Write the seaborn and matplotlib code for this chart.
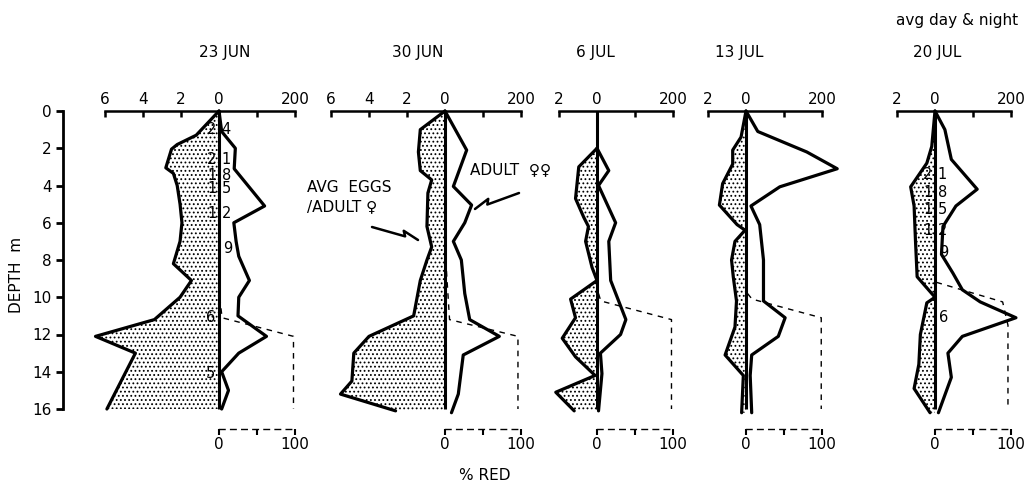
import matplotlib
matplotlib.use("Agg")
import numpy as np
import pandas as pd
import matplotlib.pyplot as plt
from matplotlib.lines import Line2D
import seaborn as sns

# ------------------------------------------------------------------ data
dates = ["23 JUN", "30 JUN", "6 JUL", "13 JUL", "20 JUL"]
egg_axis_max = [6, 6, 2, 2, 2]
depth_ticks = [0, 2, 4, 6, 8, 10, 12, 14, 16]
egg_tick_labels = ["6", "4", "2", "0"]
adult_tick_labels = ["", "200"]
red_ticks = [0, 50, 100]
red_tick_labels = ["0", "", "100"]

# 23 JUN
jun23_egg_depth = [0, 1.3, 1.8, 2.05, 3.05, 3.35, 4.0, 5.0, 6.0, 7.0, 8.2, 9.1, 10.0, 11.2, 12.1, 13.0, 16.0]
jun23_eggs = [0, 1.2, 2.2, 2.5, 2.8, 2.4, 2.2, 2.05, 1.95, 2.05, 2.4, 1.45, 2.05, 3.4, 6.5, 4.4, 5.9]
jun23_adult_depth = [0, 1.1, 2.0, 3.1, 5.1, 6.0, 7.0, 7.8, 9.1, 10.0, 11.0, 12.1, 13.0, 14.0, 15.0, 16.0]
jun23_adults = [0, 7, 43, 40, 120, 39, 45, 52, 80, 52, 50, 125, 52, 7, 25, 7]
jun23_red_depth = [10.0, 11.1, 12.1, 16.0]
jun23_red = [1, 4, 98, 98]
jun23_n_depth = [1.0, 2.6, 3.45, 4.15, 5.5, 7.4, 11.1, 14.1]
jun23_n = ["24", "21", "18", "15", "12", "9", "6", "5"]
jun23_n_side = ["c", "c", "c", "c", "c", "r", "l", "l"]

# 30 JUN
jun30_egg_depth = [0, 1.0, 2.2, 3.2, 3.7, 4.4, 6.2, 7.3, 8.0, 9.1, 11.0, 12.1, 13.0, 14.5, 15.2, 16.1]
jun30_eggs = [0, 1.3, 1.4, 1.3, 0.7, 0.9, 0.95, 0.7, 0.95, 1.3, 1.65, 4.0, 4.8, 4.9, 5.5, 2.6]
jun30_adult_depth = [0, 2.1, 4.05, 5.05, 6.0, 7.0, 8.0, 9.8, 11.2, 12.1, 13.1, 15.2, 16.2]
jun30_adults = [0, 57, 22, 70, 52, 22, 43, 52, 65, 143, 48, 35, 17]
jun30_red_depth = [8.0, 11.2, 12.1, 16.0]
jun30_red = [1, 6, 96, 96]

# 6 JUL
jul06_egg_depth = [2.0, 3.0, 4.7, 5.7, 6.2, 7.0, 8.4, 9.1, 10.1, 11.1, 12.2, 13.2, 14.2, 15.1, 16.1]
jul06_eggs = [0, 0.96, 1.13, 0.7, 0.45, 0.6, 0.26, 0, 1.39, 1.13, 1.83, 1.13, 0.1, 2.17, 1.2]
jul06_adult_depth = [2.0, 3.2, 4.0, 6.0, 7.0, 9.1, 11.2, 12.0, 13.0, 14.1, 16.1]
jul06_adults = [0, 31, 4, 49, 31, 36, 76, 62, 9, 13, 4]
jul06_red_depth = [9.8, 10.2, 11.2, 16.0]
jul06_red = [2, 5, 98, 98]

# 13 JUL
jul13_egg_depth = [0, 1.4, 2.1, 2.85, 3.9, 5.05, 6.1, 6.4, 7.0, 8.0, 8.9, 10.2, 11.6, 13.1, 14.2, 16.2]
jul13_eggs = [0, 0.26, 0.7, 0.7, 1.23, 1.4, 0.47, 0.05, 0.58, 0.76, 0.67, 0.5, 0.58, 1.1, 0.14, 0.23]
jul13_adult_depth = [0, 1.1, 2.2, 3.1, 4.07, 5.1, 6.1, 8.0, 10.2, 11.1, 12.1, 13.1, 14.2, 16.2]
jul13_adults = [0, 31, 160, 240, 89, 13, 36, 46, 46, 103, 85, 15, 11, 15]
jul13_red_depth = [9.8, 10.1, 11.1, 16.0]
jul13_red = [2, 8, 99, 99]

# 20 JUL (avg day & night)
jul20_egg_depth = [0, 1.9, 2.8, 4.07, 5.1, 6.9, 8.9, 10.0, 10.3, 12.0, 13.6, 14.9, 16.2]
jul20_eggs = [0, 0.17, 0.43, 1.28, 1.1, 1.03, 0.94, 0, 0.43, 0.77, 0.85, 1.1, 0.26]
jul20_adult_depth = [0, 1.0, 2.6, 4.2, 5.1, 6.2, 7.7, 8.7, 9.6, 10.25, 11.1, 12.1, 13.0, 14.3, 16.2]
jul20_adults = [0, 26, 43, 111, 55, 21, 17, 47, 72, 119, 213, 72, 34, 43, 9]
jul20_red_depth = [9.2, 10.25, 11.5, 16.0]
jul20_red = [2, 89, 96, 96]
jul20_n_depth = [3.4, 4.35, 5.3, 6.4, 7.6, 11.1]
jul20_n = ["21", "18", "15", "12", "9", "6"]
jul20_n_side = ["c", "c", "c", "c", "r", "r"]

panels = [
    (jun23_egg_depth, jun23_eggs, jun23_adult_depth, jun23_adults, jun23_red_depth, jun23_red,
     jun23_n_depth, jun23_n, jun23_n_side),
    (jun30_egg_depth, jun30_eggs, jun30_adult_depth, jun30_adults, jun30_red_depth, jun30_red,
     [], [], []),
    (jul06_egg_depth, jul06_eggs, jul06_adult_depth, jul06_adults, jul06_red_depth, jul06_red,
     [], [], []),
    (jul13_egg_depth, jul13_eggs, jul13_adult_depth, jul13_adults, jul13_red_depth, jul13_red,
     [], [], []),
    (jul20_egg_depth, jul20_eggs, jul20_adult_depth, jul20_adults, jul20_red_depth, jul20_red,
     jul20_n_depth, jul20_n, jul20_n_side),
]

# ------------------------------------------------------------------ layout
W, H = 1034, 483
EGG_UNIT = 50.0          # 1 egg/adult female drawn as 50 adult units
RED_UNIT = 2.0           # 100 % red drawn as 200 adult units
PX_PER_UNIT = 0.38
zero_px = [219, 445, 597, 746, 935]
title_px = [225, 418, 595, 739, 937]
left_lim = [-410.5, -330, -130, -130, -130]
right_lim = 260
top_px, bot_px = 111, 409   # depth 0 and 16

sns.set_theme(style="white")
plt.rcParams['font.family'] = ['DejaVu Sans']
plt.rcParams['hatch.linewidth'] = 0.8
for k in ('text.color', 'axes.labelcolor', 'xtick.color', 'ytick.color'):
    plt.rcParams[k] = 'black'
FS = 11

fig = plt.figure(figsize=(W / 100, H / 100), dpi=100)

for i, (ed, ev, ad, av, rd, rv, nd, nl, ns) in enumerate(panels):
    L = left_lim[i]
    left = (zero_px[i] + L * PX_PER_UNIT) / W
    width = (right_lim - L) * PX_PER_UNIT / W
    ax = fig.add_axes([left, (H - bot_px) / H, width, (bot_px - top_px) / H])
    ax.patch.set_visible(False)

    egg_x = -np.asarray(ev) * EGG_UNIT
    # stippled egg area
    ax.fill_betweenx(ed, egg_x, 0, facecolor='none', edgecolor='black',
                     linewidth=0, hatch='....')
    sns.lineplot(x=egg_x, y=ed, orient='y', sort=False, estimator=None,
                 color='black', lw=2.3, ax=ax)
    sns.lineplot(x=av, y=ad, orient='y', sort=False, estimator=None,
                 color='black', lw=2.3, ax=ax)
    sns.lineplot(x=np.asarray(rv) * RED_UNIT, y=rd, orient='y', sort=False,
                 estimator=None, color='black', lw=1.0, ax=ax)
    ax.lines[-1].set_dashes((4, 4))
    ax.vlines(0, depth_ticks[0], depth_ticks[-1], color='black', lw=2.2)

    for a in ax.lines + ax.collections:
        a.set_clip_on(False)

    ax.set_xlim(L, right_lim)
    ax.set_ylim(depth_ticks[-1], depth_ticks[0])
    ax.set_xlabel("")
    ax.set_ylabel("")

    # top axis: eggs (left) / adults (right)
    emax = egg_axis_max[i]
    eticks = [-e * EGG_UNIT for e in range(emax, -1, -2)]
    elabels = egg_tick_labels[-len(eticks):]
    ax.xaxis.tick_top()
    ax.set_xticks(eticks + [100, 200])
    ax.set_xticklabels(elabels + adult_tick_labels)
    ax.tick_params(axis='x', direction='in', length=4, width=1.8,
                   labelsize=FS, pad=3, colors='black')
    for s in ('right', 'bottom', 'left'):
        ax.spines[s].set_visible(False)
    ax.spines['top'].set_visible(True)
    ax.spines['top'].set_color('black')
    ax.spines['top'].set_linewidth(1.8)
    ax.spines['top'].set_bounds(-emax * EGG_UNIT, 200)

    if i == 0:
        ax.spines['left'].set_visible(True)
        ax.spines['left'].set_color('black')
        ax.spines['left'].set_linewidth(2.0)
        ax.spines['left'].set_bounds(depth_ticks[0], depth_ticks[-1])
        ax.set_yticks(depth_ticks)
        ax.set_yticklabels([str(d) for d in depth_ticks])
        ax.tick_params(axis='y', direction='out', length=5, width=2.0,
                       labelsize=FS, pad=3, colors='black', left=True)
    else:
        ax.set_yticks([])

    # bottom %RED axis
    sec = ax.secondary_xaxis(-20 / (bot_px - top_px),
                             functions=(lambda x: x / RED_UNIT, lambda r: r * RED_UNIT))
    sec.set_xticks(red_ticks)
    sec.set_xticklabels(red_tick_labels)
    sec.tick_params(direction='out', length=4, width=1.5, labelsize=FS,
                    pad=2, colors='black')
    sec.spines['bottom'].set_bounds(0, 100)
    sec.spines['bottom'].set_linestyle((0, (4, 4)))
    sec.spines['bottom'].set_linewidth(1.0)
    sec.spines['bottom'].set_color('black')

    # sample sizes (two-digit numbers straddle the zero line)
    for d, txt, side in zip(nd, nl, ns):
        if side == 'c':
            ax.annotate(txt[0], xy=(0, d), xytext=(-2, 0), textcoords='offset points',
                        ha='right', va='center', fontsize=FS - 0.5)
            ax.annotate(txt[1:], xy=(0, d), xytext=(2, 0), textcoords='offset points',
                        ha='left', va='center', fontsize=FS - 0.5)
        else:
            ha = 'left' if side == 'r' else 'right'
            off = 3 if side == 'r' else -3
            ax.annotate(txt, xy=(0, d), xytext=(off, 0), textcoords='offset points',
                        ha=ha, va='center', fontsize=FS - 0.5)

    fig.text(title_px[i] / W, 1 - 52 / H, dates[i],
             ha='center', va='center', fontsize=FS)

fig.text(957 / W, 1 - 21 / H, "avg day & night", ha='center', va='center', fontsize=FS)
fig.text(485 / W, 1 - 475 / H, "% RED", ha='center', va='center', fontsize=FS)
fig.text(17 / W, 1 - 275 / H, "DEPTH  m", ha='center', va='center',
         rotation=90, fontsize=FS)

fig.text(307 / W, 1 - 187 / H, "AVG  EGGS", ha='left', va='center', fontsize=FS)
fig.text(307 / W, 1 - 207 / H, "/ADULT \u2640", ha='left', va='center', fontsize=FS)
fig.text(470 / W, 1 - 170 / H, "ADULT  \u2640\u2640", ha='left', va='center', fontsize=FS)


def lightning(start, end):
    s = np.array(start, float)
    e = np.array(end, float)
    v = e - s
    L = np.hypot(*v)
    d = v / L
    n = np.array([-d[1], d[0]])
    if n[1] > 0:          # make the jog point upward on screen
        n = -n
    b = s + 0.72 * v
    c = b - 0.06 * L * d + 5 * n
    pts = np.array([s, b, c, e])
    fig.add_artist(Line2D(pts[:, 0] / W, 1 - pts[:, 1] / H, color='black',
                          lw=1.8, transform=fig.transFigure))


lightning((372, 227), (418, 240))
lightning((519, 193), (475, 209))

fig.savefig("out.png", dpi=100, facecolor='white')
